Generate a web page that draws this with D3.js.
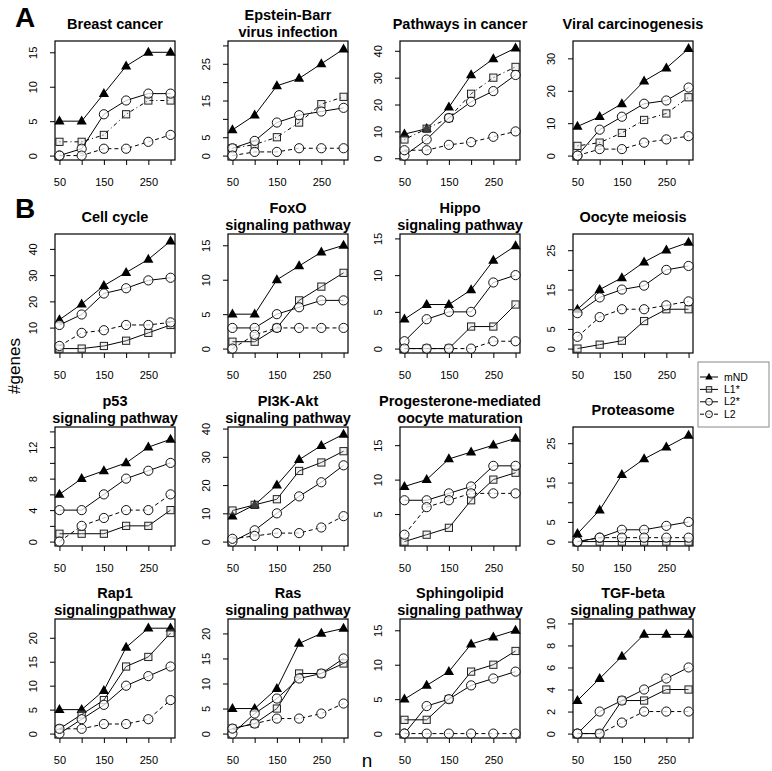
<!DOCTYPE html>
<html>
<head>
<meta charset="utf-8">
<script src="https://cdn.jsdelivr.net/npm/d3@7"></script>
<style>
  body { margin: 0; background: #fff; }
  text { font-family: "Liberation Sans", Arial, Helvetica, sans-serif; fill: #000; }
</style>
</head>
<body>
<div id="chart"></div>
<script>

// n (top genes) on the x axis
var nValues = [50, 100, 150, 200, 250, 300];
var xTickLabels = [50, 150, 250];

var titles = [
    ["Breast cancer"], ["Epstein-Barr", "virus infection"], ["Pathways in cancer"], ["Viral carcinogenesis"],
    ["Cell cycle"], ["FoxO", "signaling pathway"], ["Hippo", "signaling pathway"], ["Oocyte meiosis"],
    ["p53", "signaling pathway"], ["PI3K-Akt", "signaling pathway"], ["Progesterone-mediated", "oocyte maturation"], ["Proteasome"],
    ["Rap1", "signalingpathway"], ["Ras", "signaling pathway"], ["Sphingolipid", "signaling pathway"], ["TGF-beta", "signaling pathway"]
];

// #genes for each method, one row per panel
var mND = [
    [5, 5, 9, 13, 15, 15], [7, 11, 19, 21, 25, 29], [9, 11, 19, 31, 37, 41], [9, 12, 16, 23, 27, 33],
    [13, 19, 26, 31, 36, 43], [5, 5, 10, 12, 14, 15], [4, 6, 6, 8, 12, 14], [10, 15, 18, 22, 25, 27],
    [6, 8, 9, 10, 12, 13], [9, 13, 20, 29, 34, 38], [9, 10, 13, 14, 15, 16], [2, 8, 17, 21, 24, 27],
    [5, 5, 9, 18, 22, 22], [5, 5, 9, 18, 20, 21], [5, 7, 9, 13, 14, 15], [3, 5, 7, 9, 9, 9]
];
var L1s = [
    [2, 2, 3, 6, 8, 8], [2, 3, 5, 9, 14, 16], [7, 11, 15, 24, 30, 34], [3, 4, 7, 11, 13, 18],
    [2, 2, 3, 5, 8, 11], [1, 1, 3, 7, 9, 11], [0, 0, 0, 3, 3, 6], [0, 1, 2, 7, 10, 10],
    [1, 1, 1, 2, 2, 4], [11, 13, 15, 25, 28, 32], [1, 2, 3, 7, 10, 11], [0, 0, 0, 0, 0, 0],
    [1, 4, 7, 14, 16, 21], [1, 2, 5, 12, 12, 14], [2, 2, 5, 9, 10, 12], [0, 0, 3, 3, 4, 4]
];
var L2s = [
    [0, 1, 6, 8, 9, 9], [2, 4, 9, 11, 12, 13], [1, 7, 15, 21, 25, 31], [0, 8, 12, 16, 17, 21],
    [11, 15, 23, 25, 28, 29], [3, 3, 5, 6, 7, 7], [1, 4, 5, 5, 9, 10], [9, 13, 15, 16, 20, 21],
    [4, 4, 6, 8, 9, 10], [0, 4, 10, 16, 21, 27], [7, 7, 8, 9, 12, 12], [0, 1, 3, 3, 4, 5],
    [0, 3, 6, 10, 12, 14], [0, 4, 7, 11, 12, 15], [0, 4, 5, 7, 8, 9], [0, 2, 3, 4, 5, 6]
];
var L2 = [
    [0, 0, 1, 1, 2, 3], [0, 1, 1, 2, 2, 2], [3, 3, 5, 6, 8, 10], [0, 2, 2, 4, 5, 6],
    [3, 8, 9, 11, 11, 12], [0, 2, 3, 3, 3, 3], [0, 0, 0, 0, 1, 1], [3, 8, 10, 10, 11, 12],
    [0, 2, 3, 4, 4, 6], [1, 2, 3, 3, 5, 9], [2, 6, 7, 8, 8, 8], [0, 1, 1, 1, 1, 1],
    [1, 1, 2, 2, 3, 7], [1, 2, 3, 3, 4, 6], [0, 0, 0, 0, 0, 0], [0, 0, 1, 2, 2, 2]
];

// y ticks drawn, and the ones that carry a label
var yTicks = [
    [0, 5, 10, 15], [0, 5, 10, 15, 20, 25, 30], [0, 10, 20, 30, 40], [0, 10, 20, 30],
    [10, 20, 30, 40], [0, 5, 10, 15], [0, 5, 10, 15], [0, 5, 10, 15, 20, 25],
    [0, 2, 4, 6, 8, 10, 12, 14], [0, 10, 20, 30, 40], [5, 10, 15], [0, 5, 10, 15, 20, 25],
    [0, 5, 10, 15, 20], [0, 5, 10, 15, 20], [0, 5, 10, 15], [0, 2, 4, 6, 8, 10]
];
var yLabels = [
    [0, 5, 10, 15], [0, 5, 15, 25], [0, 10, 20, 30, 40], [0, 10, 20, 30],
    [10, 20, 30, 40], [0, 5, 10, 15], [0, 5, 10, 15], [0, 5, 15, 25],
    [0, 4, 8, 12], [0, 10, 20, 30, 40], [5, 10, 15], [0, 5, 15, 25],
    [0, 5, 10, 15, 20], [0, 5, 10, 15, 20], [0, 5, 10, 15], [0, 2, 4, 6, 8, 10]
];

var legendNames = ["mND", "L1*", "L2*", "L2"];

// layout
var width = 772, height = 771;
var colLeft = [55, 228, 400, 573];
var rowTop = [41, 234, 427, 619];
var boxW = 120, boxH = 119;

var series = [
    { data: mND, shape: "triangle", dash: null },
    { data: L1s, shape: "square", dash: null },
    { data: L2s, shape: "circle", dash: null },
    { data: L2, shape: "circle", dash: "4,3" }
];

var svg = d3.select("#chart")
    .append("svg")
    .attr("width", width)
    .attr("height", height);

function drawMarker(g, shape, k) {
    if (shape == "triangle") {
        return g.append("path")
            .attr("d", "M0," + (-5.6 * k) + "L" + (5.1 * k) + "," + (3.4 * k) + "L" + (-5.1 * k) + "," + (3.4 * k) + "Z")
            .attr("fill", "#000");
    }
    if (shape == "square") {
        return g.append("rect")
            .attr("x", -3.6 * k).attr("y", -3.6 * k)
            .attr("width", 7.2 * k).attr("height", 7.2 * k)
            .attr("fill", "rgba(210,210,210,0.3)")
            .attr("stroke", "#222")
            .attr("stroke-width", 1);
    }
    return g.append("circle")
        .attr("r", 4.6 * k)
        .attr("fill", "rgba(255,255,255,0.75)")
        .attr("stroke", "#111")
        .attr("stroke-width", 1);
}

var xExt = d3.extent(nValues), xPad = (xExt[1] - xExt[0]) * 0.04;

titles.forEach(function (title, i) {
    var row = Math.floor(i / 4), col = i % 4;
    var left = colLeft[col], top = rowTop[row];

    var g = svg.append("g")
        .attr("transform", "translate(" + left + "," + top + ")");

    var all = mND[i].concat(L1s[i], L2s[i], L2[i]);
    var lo = d3.min(all), hi = d3.max(all) + 1, yPad = (hi - lo) * 0.04;

    var x = d3.scaleLinear()
        .domain([xExt[0] - xPad, xExt[1] + xPad])
        .range([0, boxW]);
    var y = d3.scaleLinear()
        .domain([lo - yPad, hi + yPad])
        .range([boxH, 0]);

    // X axis
    var xa = g.append("g")
        .attr("transform", "translate(0," + boxH + ")")
        .call(d3.axisBottom(x).tickValues(nValues).tickSize(5)
            .tickFormat(function (d) { return xTickLabels.indexOf(d) >= 0 ? d : ""; }));
    xa.select(".domain").remove();
    xa.selectAll("line").attr("stroke", "#000");
    xa.selectAll("text")
        .attr("y", 26).attr("dy", null)
        .style("font-size", "11px");

    // Y axis, labels turned like R does
    var ya = g.append("g")
        .call(d3.axisLeft(y).tickValues(yTicks[i]).tickSize(5)
            .tickFormat(function (d) { return yLabels[i].indexOf(d) >= 0 ? d : ""; }));
    ya.select(".domain").remove();
    ya.selectAll("line").attr("stroke", "#000");
    ya.selectAll("text")
        .attr("x", null).attr("dy", null)
        .attr("transform", "translate(-18,0) rotate(-90)")
        .attr("text-anchor", "middle")
        .style("font-size", "11px");

    // box
    g.append("rect")
        .attr("width", boxW).attr("height", boxH)
        .attr("fill", "none")
        .attr("stroke", "#000")
        .attr("stroke-width", 1.2);

    // title
    var tt = g.append("text")
        .attr("x", boxW / 2)
        .attr("text-anchor", "middle")
        .style("font-size", "14.5px")
        .style("font-weight", "bold");
    title.forEach(function (line, j) {
        var by = title.length == 1 ? -12.5 : (j == 0 ? -21 : -4);
        tt.append("tspan").attr("x", boxW / 2).attr("y", by).text(line);
    });

    // lines + points
    series.forEach(function (s, k) {
        var vals = s.data[i];
        var dash = s.dash;
        if (k == 1 && row == 0) dash = "1,3,4,3";
        var line = d3.line()
            .x(function (d, j) { return x(nValues[j]); })
            .y(function (d) { return y(d); });
        g.append("path")
            .datum(vals)
            .attr("d", line)
            .attr("fill", "none")
            .attr("stroke", "#000")
            .attr("stroke-width", 1)
            .attr("stroke-dasharray", dash);
        vals.forEach(function (v, j) {
            var m = g.append("g").attr("transform", "translate(" + x(nValues[j]) + "," + y(v) + ")");
            drawMarker(m, s.shape, 1);
        });
    });
});

// panel letters and shared axis titles
svg.append("text").attr("x", 15).attr("y", 27)
    .style("font-size", "28px").style("font-weight", "bold").text("A");
svg.append("text").attr("x", 15).attr("y", 218)
    .style("font-size", "28px").style("font-weight", "bold").text("B");
svg.append("text")
    .attr("transform", "translate(20,366) rotate(-90)")
    .attr("text-anchor", "middle")
    .style("font-size", "17px")
    .text("#genes");
svg.append("text").attr("x", 367).attr("y", 767)
    .attr("text-anchor", "middle")
    .style("font-size", "19px")
    .text("n");

// legend
var lg = svg.append("g").attr("transform", "translate(698,362)");
lg.append("rect")
    .attr("width", 71).attr("height", 65)
    .attr("fill", "#fff")
    .attr("stroke", "#888");
legendNames.forEach(function (name, k) {
    var ly = 15 + k * 12.4;
    lg.append("line")
        .attr("x1", 2).attr("x2", 20)
        .attr("y1", ly).attr("y2", ly)
        .attr("stroke", "#000")
        .attr("stroke-dasharray", series[k].dash);
    var m = lg.append("g").attr("transform", "translate(11," + ly + ")");
    drawMarker(m, series[k].shape, 0.75);
    lg.append("text")
        .attr("x", 26).attr("y", ly + 3.5)
        .style("font-size", "10.5px")
        .text(name);
});

</script>
</body>
</html>
